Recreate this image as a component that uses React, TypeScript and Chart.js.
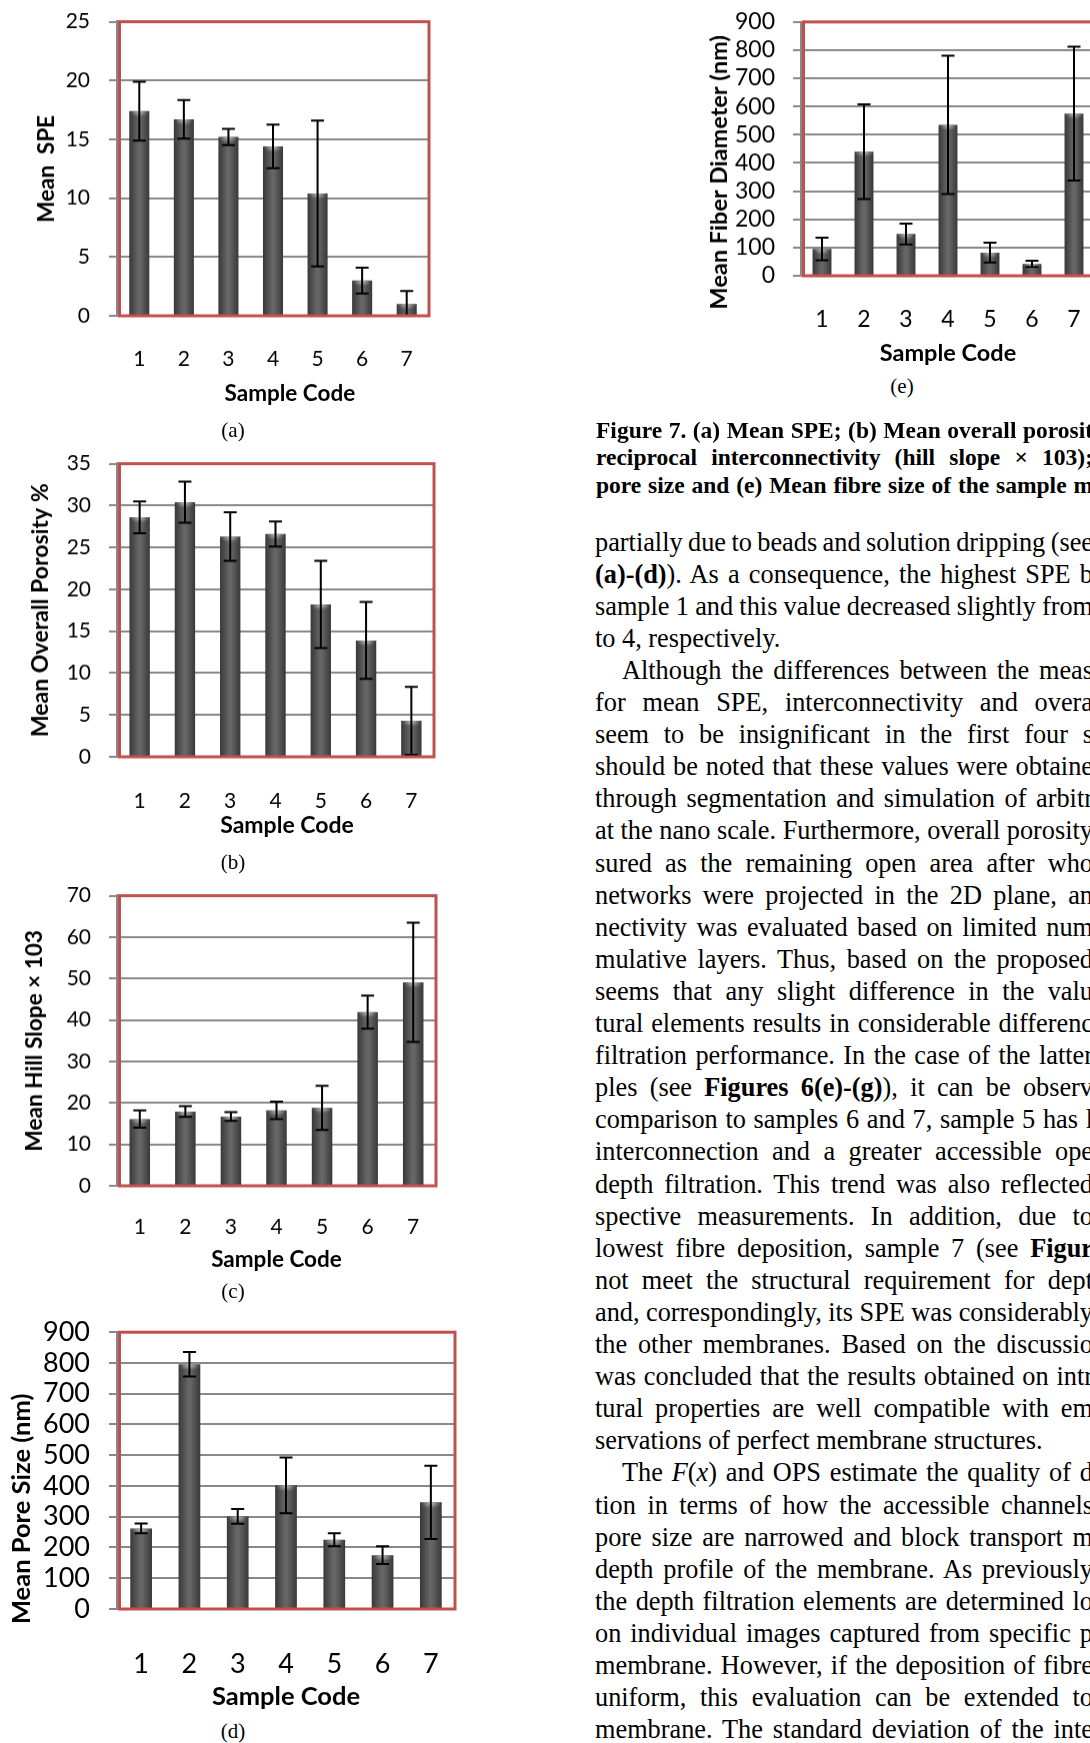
import React, { useEffect, useLayoutEffect, useRef } from 'react';
import { Chart, registerables } from 'chart.js';

Chart.register(...registerables);

// ---------------- data ----------------
const sampleCodes = ['1', '2', '3', '4', '5', '6', '7'];

// (a) Mean SPE
const speMeans = [17.4, 16.7, 15.2, 14.4, 10.4, 3.0, 1.0];
const speErrors = [2.5, 1.65, 0.7, 1.85, 6.2, 1.1, 1.1];
const speAxis = { max: 25, step: 5 };

// (b) Mean overall porosity %
const porosityMeans = [28.6, 30.4, 26.3, 26.6, 18.2, 13.9, 4.3];
const porosityErrors = [1.9, 2.45, 2.9, 1.5, 5.2, 4.6, 4.05];
const porosityAxis = { max: 35, step: 5 };

// (c) Mean hill slope x 103
const hillMeans = [16.1, 17.9, 16.7, 18.2, 18.8, 41.9, 49.1];
const hillErrors = [2.1, 1.3, 1.05, 2.1, 5.3, 4.0, 14.4];
const hillAxis = { max: 70, step: 10 };

// (d) Mean pore size (nm)
const poreMeans = [262, 796, 301, 402, 225, 175, 347];
const poreErrors = [16, 40, 24, 91, 21, 29, 119];
const poreAxis = { max: 900, step: 100 };

// (e) Mean fibre diameter (nm)
const fiberMeans = [95, 440, 148, 535, 82, 42, 575];
const fiberErrors = [40, 168, 37, 245, 35, 11, 237];
const fiberAxis = { max: 900, step: 100 };

const captionLines = [
  'Figure 7. (a) Mean SPE; (b) Mean overall porosit',
  'reciprocal interconnectivity (hill slope \u00d7 103);',
  'pore size and (e) Mean fibre size of the sample m',
];

// '*' toggles bold, '~' toggles italic; '>' prefix = indented; '|' suffix = not justified
const bodyLines = [
  'partially due to beads and solution dripping (see',
  '*(a)-(d)*). As a consequence, the highest SPE b',
  'sample 1 and this value decreased slightly from',
  'to 4, respectively.|',
  '>Although the differences between the meas',
  'for mean SPE, interconnectivity and overa',
  'seem to be insignificant in the first four s',
  'should be noted that these values were obtaine',
  'through segmentation and simulation of arbitr',
  'at the nano scale. Furthermore, overall porosity',
  'sured as the remaining open area after who',
  'networks were projected in the 2D plane, an',
  'nectivity was evaluated based on limited num',
  'mulative layers. Thus, based on the proposed',
  'seems that any slight difference in the valu',
  'tural elements results in considerable differenc',
  'filtration performance. In the case of the latter',
  'ples (see *Figures 6(e)-(g)*), it can be observ',
  'comparison to samples 6 and 7, sample 5 has l',
  'interconnection and a greater accessible ope',
  'depth filtration. This trend was also reflected',
  'spective measurements. In addition, due to',
  'lowest fibre deposition, sample 7 (see *Figur*',
  'not meet the structural requirement for dept',
  'and, correspondingly, its SPE was considerably',
  'the other membranes. Based on the discussio',
  'was concluded that the results obtained on intr',
  'tural properties are well compatible with em',
  'servations of perfect membrane structures.|',
  '>The ~F~(~x~) and OPS estimate the quality of d',
  'tion in terms of how the accessible channels',
  'pore size are narrowed and block transport m',
  'depth profile of the membrane. As previously',
  'the depth filtration elements are determined lo',
  'on individual images captured from specific p',
  'membrane. However, if the deposition of fibre',
  'uniform, this evaluation can be extended to',
  'membrane. The standard deviation of the inte',
];

// ---------------- styling ----------------
const CHART_FONT = 'Lato, "Open Sans", sans-serif';
const SERIF = '"Liberation Serif", "Times New Roman", serif';
const GRID = '#888888';
const FRAME = '#C0504D';
const BAR_PCT = 0.45;
const EN = '\u2002';
const TICK_LEN = 8;

interface Geo {
  left: number; bottom: number; width: number;
  plotL: number; plotT: number; plotR: number; plotB: number;
  tickRight: number; yTitleX: number; xTickY: number; xTitleY: number;
  tickSize: number; titleSize: number;
  xTitleLead?: string; yTitleTrail?: string;
}

function canvasTop(g: Geo) {
  const tickHalf = (g.tickSize * 1.2) / 2;
  const yTickPad = g.plotL - TICK_LEN - g.tickRight;
  return g.plotT - tickHalf - yTickPad;
}

function barFill(c: any) {
  const chart = c.chart;
  const xs = chart.scales && chart.scales.x;
  if (c.type !== 'data' || !xs || !chart.chartArea) return '#505050';
  const cx = xs.getPixelForValue(c.dataIndex);
  const hw = ((xs.width / sampleCodes.length) * BAR_PCT) / 2;
  const g = chart.ctx.createLinearGradient(cx - hw, 0, cx + hw, 0);
  g.addColorStop(0, '#383838');
  g.addColorStop(0.45, '#666666');
  g.addColorStop(0.55, '#666666');
  g.addColorStop(1, '#383838');
  return g;
}

// glossy cap highlight on each bar top (uses the bar elements laid out by Chart.js)
const glossPlugin = {
  id: 'barGloss',
  afterDatasetsDraw(chart: any) {
    const meta = chart.getDatasetMeta(0);
    const ctx = chart.ctx;
    meta.data.forEach((bar: any) => {
      const w = bar.width;
      const h = Math.min(12, bar.base - bar.y);
      if (h <= 0) return;
      ctx.save();
      ctx.beginPath();
      ctx.rect(bar.x - w / 2, bar.y, w, h);
      ctx.clip();
      ctx.translate(bar.x, bar.y + 1);
      ctx.scale(1, 0.55);
      const r = w / 2;
      const g = ctx.createRadialGradient(0, 0, 0, 0, 0, r);
      g.addColorStop(0, 'rgba(200,200,200,0.9)');
      g.addColorStop(0.6, 'rgba(150,150,150,0.45)');
      g.addColorStop(1, 'rgba(90,90,90,0)');
      ctx.fillStyle = g;
      ctx.beginPath();
      ctx.arc(0, 0, r, 0, Math.PI * 2);
      ctx.fill();
      ctx.restore();
    });
  },
};

function makeErrorBars(errors: number[]) {
  return {
    id: 'errorBars',
    afterDatasetsDraw(chart: any) {
      const meta = chart.getDatasetMeta(0);
      const ys = chart.scales.y;
      const ctx = chart.ctx;
      const vals = chart.data.datasets[0].data as number[];
      ctx.save();
      ctx.strokeStyle = '#000';
      ctx.lineWidth = 2;
      meta.data.forEach((bar: any, i: number) => {
        const v = vals[i];
        const e = errors[i];
        const yTop = ys.getPixelForValue(v + e);
        const yBot = ys.getPixelForValue(Math.max(0, v - e));
        const x = bar.x;
        ctx.beginPath();
        ctx.moveTo(x, yTop);
        ctx.lineTo(x, yBot);
        ctx.moveTo(x - 6.5, yTop);
        ctx.lineTo(x + 6.5, yTop);
        ctx.moveTo(x - 6.5, yBot);
        ctx.lineTo(x + 6.5, yBot);
        ctx.stroke();
      });
      ctx.restore();
    },
  };
}

const framePlugin = {
  id: 'plotFrame',
  afterDraw(chart: any) {
    const { left, top, right, bottom } = chart.chartArea;
    const ctx = chart.ctx;
    ctx.save();
    ctx.strokeStyle = FRAME;
    ctx.lineWidth = 3;
    ctx.strokeRect(left + 2.5, top, right - left - 2.5, bottom - top);
    ctx.restore();
  },
};

function BarPanel(props: { values: number[]; errors: number[]; axis: { max: number; step: number }; yTitle: string; geo: Geo }) {
  const { values, errors, axis, yTitle, geo } = props;
  const ref = useRef<HTMLCanvasElement>(null);
  const top = canvasTop(geo);
  const height = geo.bottom - top;
  useEffect(() => {
    const canvas = ref.current;
    if (!canvas) return;
    const g = geo;
    const tickHalf = (g.tickSize * 1.2) / 2;
    const titleHalf = (g.titleSize * 1.2) / 2;
    const chart = new Chart(canvas, {
      type: 'bar',
      data: {
        labels: sampleCodes,
        datasets: [
          {
            data: values,
            backgroundColor: barFill as any,
            borderWidth: 0,
            barPercentage: BAR_PCT,
            categoryPercentage: 1,
          },
        ],
      },
      options: {
        animation: false,
        responsive: false,
        devicePixelRatio: 1,
        layout: {
          padding: { top: 0, right: g.left + g.width - g.plotR, left: 0, bottom: 0 },
        },
        plugins: { legend: { display: false }, tooltip: { enabled: false } },
        scales: {
          x: {
            grid: { display: false, drawTicks: false },
            border: { display: false },
            ticks: {
              color: '#000',
              font: { family: CHART_FONT, size: g.tickSize },
              padding: g.xTickY - g.plotB - tickHalf,
              maxRotation: 0,
              autoSkip: false,
            },
            title: {
              display: true,
              text: (g.xTitleLead || '') + 'Sample Code',
              color: '#000',
              font: { family: CHART_FONT, size: g.titleSize, weight: 'bold' },
              padding: { top: 0, bottom: g.bottom - g.xTitleY - titleHalf },
            },
            afterFit: (s: any) => {
              s.height = g.bottom - g.plotB;
            },
          },
          y: {
            min: 0,
            max: axis.max,
            ticks: {
              stepSize: axis.step,
              autoSkip: false,
              color: '#000',
              font: { family: CHART_FONT, size: g.tickSize },
              padding: g.plotL - TICK_LEN - g.tickRight,
            },
            grid: { color: GRID, lineWidth: 2, tickLength: TICK_LEN, drawTicks: true, tickColor: GRID },
            border: { display: true, color: GRID, width: 2.5 },
            title: {
              display: true,
              text: yTitle + (g.yTitleTrail || ''),
              color: '#000',
              font: { family: CHART_FONT, size: g.titleSize, weight: 'bold' },
              padding: { top: g.yTitleX - g.left - titleHalf, bottom: 0 },
            },
            afterFit: (s: any) => {
              s.width = g.plotL - g.left;
            },
          },
        },
      } as any,
      plugins: [glossPlugin, makeErrorBars(errors), framePlugin],
    });
    return () => chart.destroy();
  }, []);
  return (
    <canvas
      ref={ref}
      width={geo.width}
      height={height}
      style={{ position: 'absolute', left: geo.left, top, width: geo.width, height }}
    />
  );
}

function parseSegs(s: string) {
  const out: { t: string; b: boolean; i: boolean }[] = [];
  let b = false;
  let it = false;
  let cur = '';
  for (const ch of s) {
    if (ch === '*' || ch === '~') {
      if (cur) out.push({ t: cur, b, i: it });
      cur = '';
      if (ch === '*') b = !b;
      else it = !it;
    } else cur += ch;
  }
  if (cur) out.push({ t: cur, b, i: it });
  return out;
}

function TextBlock(props: {
  lines: string[]; left: number; top: number; pitch: number; size: number; bold?: boolean; rightEdge: number;
}) {
  const { lines, left, top, pitch, size, bold, rightEdge } = props;
  const ref = useRef<HTMLDivElement>(null);
  useLayoutEffect(() => {
    const apply = () => {
      const root = ref.current;
      if (!root) return;
      root.querySelectorAll<HTMLSpanElement>('span[data-j]').forEach((el) => {
        el.style.wordSpacing = '0px';
        const r = el.getBoundingClientRect();
        const n = (el.textContent || '').trim().split(' ').length - 1;
        if (n > 0) el.style.wordSpacing = `${(rightEdge - r.left - r.width) / n}px`;
      });
    };
    apply();
    const fonts = (document as any).fonts;
    if (fonts && fonts.ready) fonts.ready.then(apply);
  }, []);
  return (
    <div ref={ref}>
      {lines.map((raw, idx) => {
        let s = raw;
        let indent = false;
        let justify = true;
        if (s.startsWith('>')) {
          indent = true;
          s = s.slice(1);
        }
        if (s.endsWith('|')) {
          justify = false;
          s = s.slice(0, -1);
        }
        const segs = parseSegs(s);
        const inner = segs.map((sg, k) => (
          <span key={k} style={{ fontWeight: sg.b || bold ? 700 : 400, fontStyle: sg.i ? 'italic' : 'normal' }}>
            {sg.t}
          </span>
        ));
        return (
          <div
            key={idx}
            style={{
              position: 'absolute',
              left: left + (indent ? 27 : 0),
              top: top + idx * pitch,
              whiteSpace: 'nowrap',
              fontFamily: SERIF,
              fontSize: size,
              lineHeight: `${pitch}px`,
              color: '#000',
            }}
          >
            {justify ? (
              <span data-j="1" style={{ display: 'inline-block' }}>
                {inner}
              </span>
            ) : (
              <span>{inner}</span>
            )}
          </div>
        );
      })}
    </div>
  );
}

function PanelLabel({ text, cx, cy }: { text: string; cx: number; cy: number }) {
  return (
    <div
      style={{
        position: 'absolute',
        left: cx - 50,
        width: 100,
        top: cy - 13.7,
        textAlign: 'center',
        fontFamily: SERIF,
        fontSize: 21,
        lineHeight: '24px',
        color: '#000',
      }}
    >
      {text}
    </div>
  );
}

const geoA: Geo = { left: 0, bottom: 410, width: 470, plotL: 117, plotT: 22, plotR: 429, plotB: 316, tickRight: 90, yTitleX: 47, xTickY: 359, xTitleY: 394, tickSize: 21, titleSize: 22.5, xTitleLead: EN + EN + EN };
const geoB: Geo = { left: 0, bottom: 842, width: 470, plotL: 117, plotT: 464, plotR: 434, plotB: 757, tickRight: 91, yTitleX: 41, xTickY: 801, xTitleY: 826, tickSize: 21, titleSize: 23, xTitleLead: EN + EN };
const geoC: Geo = { left: 0, bottom: 1276, width: 470, plotL: 117, plotT: 896, plotR: 436, plotB: 1186, tickRight: 91, yTitleX: 35, xTickY: 1227, xTitleY: 1260, tickSize: 21, titleSize: 22.5 };
const geoD: Geo = { left: 0, bottom: 1715, width: 500, plotL: 117, plotT: 1332, plotR: 455, plotB: 1609, tickRight: 90, yTitleX: 22, xTickY: 1664, xTitleY: 1697, tickSize: 27, titleSize: 25.5, yTitleTrail: EN + EN + EN + EN + EN + EN };
const geoE: Geo = { left: 700, bottom: 370, width: 460, plotL: 801, plotT: 22, plotR: 1095, plotB: 276, tickRight: 775, yTitleX: 719, xTickY: 320, xTitleY: 353, tickSize: 23, titleSize: 23.5, yTitleTrail: EN + EN + EN + EN };

export default function App() {
  return (
    <div
      style={{
        position: 'fixed',
        left: 0,
        top: 0,
        width: 1090,
        height: 1743,
        overflow: 'hidden',
        background: '#fff',
      }}
    >
      <BarPanel values={speMeans} errors={speErrors} axis={speAxis} yTitle="Mean  SPE" geo={geoA} />
      <BarPanel values={porosityMeans} errors={porosityErrors} axis={porosityAxis} yTitle="Mean Overall Porosity %" geo={geoB} />
      <BarPanel values={hillMeans} errors={hillErrors} axis={hillAxis} yTitle={'Mean Hill Slope \u00d7 103'} geo={geoC} />
      <BarPanel values={poreMeans} errors={poreErrors} axis={poreAxis} yTitle="Mean Pore Size (nm)" geo={geoD} />
      <BarPanel values={fiberMeans} errors={fiberErrors} axis={fiberAxis} yTitle="Mean Fiber Diameter (nm)" geo={geoE} />
      <PanelLabel text="(a)" cx={233} cy={432} />
      <PanelLabel text="(b)" cx={233} cy={864} />
      <PanelLabel text="(c)" cx={233} cy={1293} />
      <PanelLabel text="(d)" cx={233} cy={1733} />
      <PanelLabel text="(e)" cx={902} cy={388} />
      <TextBlock lines={captionLines} left={596} top={416.5} pitch={27.5} size={23.5} bold rightEdge={1093} />
      <TextBlock lines={bodyLines} left={595} top={526.5} pitch={32.1} size={26.3} rightEdge={1093} />
    </div>
  );
}
